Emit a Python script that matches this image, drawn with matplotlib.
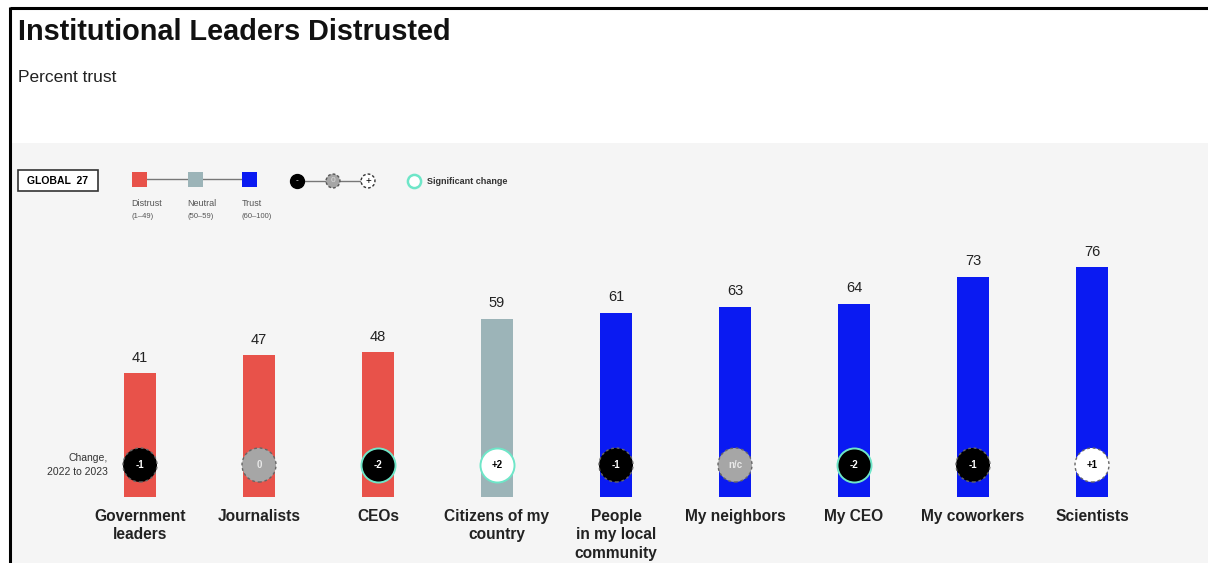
import matplotlib
matplotlib.use("Agg")
import matplotlib.pyplot as plt
from matplotlib.patches import Rectangle

plt.rcParams['font.family'] = ['Liberation Sans', 'DejaVu Sans']

categories = ["Government\nleaders", "Journalists", "CEOs", "Citizens of my\ncountry",
              "People\nin my local\ncommunity", "My neighbors", "My CEO", "My coworkers", "Scientists"]
trust = [41, 47, 48, 59, 61, 63, 64, 73, 76]
changes = ["-1", "0", "-2", "+2", "-1", "n/c", "-2", "-1", "+1"]
significant = [False, False, True, True, False, False, True, False, False]

RED, GRAY, BLUE = "#E8524A", "#9CB4B8", "#0A1AF2"
TEAL = "#6EE6C8"
BG = "#F5F5F5"

W, H = 1208, 563
fig = plt.figure(figsize=(W / 100, H / 100), dpi=100)
fig.patch.set_facecolor("white")

def fx(x):
    return x / W

def fy(y):
    return 1 - y / H

# overlay axes in pixel coordinates (origin top-left) for frame, titles, legend
lax = fig.add_axes([0, 0, 1, 1], zorder=5)
lax.set_xlim(0, W)
lax.set_ylim(H, 0)
lax.axis("off")

# background panel (behind everything)
bgax = fig.add_axes([fx(12), 0, 1 - fx(12), fy(143)], zorder=-1)
bgax.set_facecolor(BG)
bgax.set_xticks([])
bgax.set_yticks([])
for s in bgax.spines.values():
    s.set_visible(False)

# border lines
lax.plot([10, W], [8, 8], color="black", lw=2.2, solid_capstyle="butt")
lax.plot([10, 10], [7, H], color="black", lw=2.2, solid_capstyle="butt")

lax.text(18, 32, "Institutional Leaders Distrusted", fontsize=20.8, fontweight="bold",
         va="center", ha="left", color="#111111")
lax.text(18, 77, "Percent trust", fontsize=12.5, va="center", ha="left", color="#222222")

# main axes
px_per_unit = 3.02
ax_top_px = 420
zero_px = H - 497
ax = fig.add_axes([fx(12), 0, 1 - fx(12), fy(143)], zorder=2)
ax.set_facecolor("none")
ax.set_ylim(-zero_px / px_per_unit, (ax_top_px - zero_px) / px_per_unit)
x0 = -(140 - 12) / 119
ax.set_xlim(x0, x0 + (W - 12) / 119)
ax.axis("off")

def color_for(v):
    if v < 50:
        return RED
    if v < 60:
        return GRAY
    return BLUE

xs = list(range(len(trust)))
ax.bar(xs, trust, width=32 / 119, color=[color_for(v) for v in trust], zorder=2)
for x, v in zip(xs, trust):
    ax.text(x, v + 2.8, str(v), ha="center", va="bottom", fontsize=10.5, color="#222222")

circ_y = (497 - 465) / px_per_unit
for x, c, sig in zip(xs, changes, significant):
    if c.startswith("+"):
        fc, tc = "white", "black"
    elif c in ("0", "n/c"):
        fc, tc = "#A6A6A6", "#E8E8E8"
    else:
        fc, tc = "black", "white"
    if sig:
        ax.scatter([x], [circ_y], s=600, facecolor=fc, edgecolor=TEAL, linewidth=1.4, zorder=3)
    else:
        ax.scatter([x], [circ_y], s=600, facecolor=fc, edgecolor="#666666", linewidth=1.0,
                   linestyle=(0, (2, 2)), zorder=3)
    ax.text(x, circ_y, c, ha="center", va="center", fontsize=7, fontweight="bold", color=tc, zorder=4)

for x, lab in zip(xs, categories):
    ax.text(x, -(509 - 497) / px_per_unit, lab, ha="center", va="top", fontsize=11.2,
            fontweight="bold", color="#222222", linespacing=1.28, clip_on=False)

ax.text(x0 + (108 - 12) / 119, circ_y, "Change,\n2022 to 2023", ha="right", va="center",
        fontsize=7.5, color="#333333", linespacing=1.5)

# legend
lax.add_patch(Rectangle((18, 170), 80, 21, facecolor="white", edgecolor="#333333", lw=1.2))
lax.text(58, 181, "GLOBAL  27", fontsize=7.5, fontweight="bold", ha="center", va="center")
lax.plot([140, 250], [179, 179], color="#777777", lw=1, zorder=1)
for cx, col in [(139.5, RED), (195, GRAY), (249.5, BLUE)]:
    lax.add_patch(Rectangle((cx - 7.5, 171.5), 15, 15, facecolor=col, edgecolor="none", zorder=2))
for lx, t1, t2 in [(131, "Distrust", "(1\u201349)"), (187, "Neutral", "(50\u201359)"), (242, "Trust", "(60\u2013100)")]:
    lax.text(lx, 204, t1, fontsize=6.5, color="#555555", ha="left", va="center")
    lax.text(lx, 216, t2, fontsize=5.5, color="#555555", ha="left", va="center")

lax.plot([297, 368], [181, 181], color="#777777", lw=1, zorder=1)
lax.scatter([297], [181], s=100, facecolor="black", edgecolor="black", zorder=3)
lax.scatter([333], [181], s=100, facecolor="#A6A6A6", edgecolor="#555555", linestyle=(0, (2, 1.5)), zorder=3)
lax.scatter([368], [181], s=100, facecolor="white", edgecolor="#333333", linestyle=(0, (2, 1.5)), zorder=3)
lax.text(297, 181, "-", color="white", fontsize=6, ha="center", va="center", zorder=4)
lax.text(333, 181, "0", color="#DDDDDD", fontsize=6, ha="center", va="center", zorder=4)
lax.text(368, 181, "+", color="black", fontsize=7, ha="center", va="center", zorder=4)
lax.scatter([414], [181], s=90, facecolor="white", edgecolor=TEAL, linewidth=1.8, zorder=3)
lax.text(427, 181, "Significant change", fontsize=6.5, fontweight="bold", ha="left", va="center",
         color="#333333")

fig.savefig("out.png", dpi=100)
